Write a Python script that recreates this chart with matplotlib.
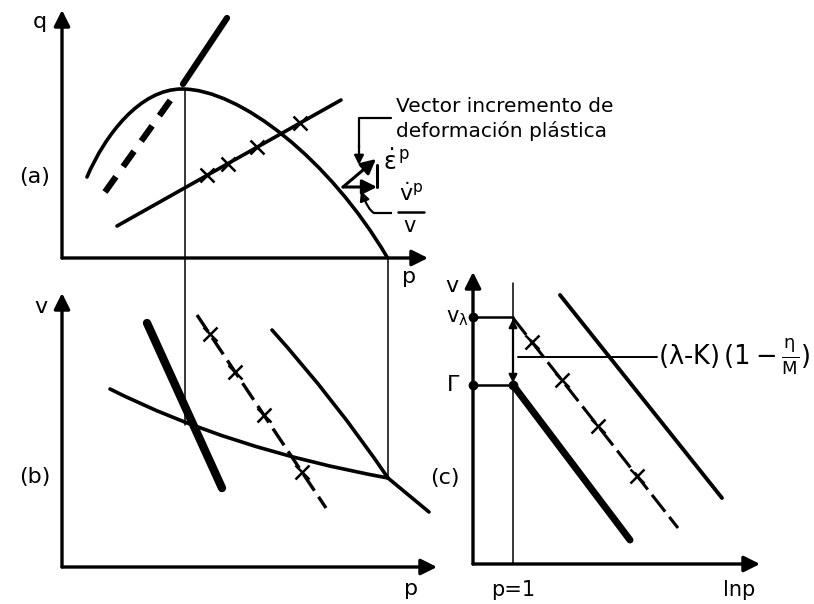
import matplotlib.pyplot as plt
from matplotlib.path import Path
from matplotlib.patches import PathPatch

plt.rcParams['font.family'] = ['DejaVu Sans']
plt.rcParams['mathtext.fontset'] = 'dejavusans'
plt.rcParams['mathtext.default'] = 'regular'

# coordinates of the sketch, in drawing units (x right, y down)

# (a) q-p plane
axis_a = [(62, 258), (62, 10), (428, 258)]
yield_curve = [(87, 177), (105, 135), (140, 89), (182, 89),
               (240, 89), (330, 160), (387, 257)]
csl_a = [(183, 84), (227, 18)]
dashed_a = [(105, 192), (172, 98)]
xline_a = [(117, 226), (341, 100)]
xmarks_a_x = [207, 228, 257, 300]
vec_origin = (343, 187)
vec_tip = (376, 159)
vec_horiz = (377, 187)

# (b) v-p plane
axis_b = [(62, 567), (62, 293), (437, 567)]
thick_b = [(147, 323), (222, 488)]
curve_b = [(110, 389), (229, 449), (388, 478)]
dashed_b = [(197, 315), (326, 508)]
xmarks_b_x = [210, 235, 264, 302]
right_b = [(272, 330), (335, 400), (388, 478)]
tail_b = [(388, 478), (429, 512)]

# guides linking (a) and (b)
guide_left = [(185, 89), (185, 425)]
guide_right = [(388, 257), (388, 478)]

# (c) v-ln p plane
axis_c = [(473, 564), (473, 272), (760, 564)]
p1_x = 513
v_lambda_y = 317
gamma_y = 385
thick_c = [(513, 385), (630, 540)]
dashed_c = [(513, 318), (678, 528)]
xmarks_c_x = [532, 562, 598, 637]
line_c = [(560, 295), (722, 498)]
leader_c_y = 357


def on_line(seg, xs):
    (x0, y0), (x1, y1) = seg
    return [y0 + (y1 - y0) * (x - x0) / (x1 - x0) for x in xs]


def curve(ax, pts, lw):
    n = len(pts)
    if n == 3:
        codes = [Path.MOVETO, Path.CURVE3, Path.CURVE3]
    else:
        codes = [Path.MOVETO] + [Path.CURVE4] * (n - 1)
    ax.add_patch(PathPatch(Path(pts, codes), fill=False, lw=lw,
                           ec='black', capstyle='round'))


def seg(ax, pts, lw, **kw):
    xs, ys = zip(*pts)
    ax.plot(xs, ys, color='black', lw=lw, solid_capstyle='round', **kw)


def arrow(ax, start, end, lw=2.2, scale=20):
    ax.annotate('', xy=end, xytext=start,
                arrowprops=dict(arrowstyle='-|>', lw=lw, color='black',
                                mutation_scale=scale, shrinkA=0, shrinkB=0))


def axes_arrows(ax, pts):
    o, top, right = pts
    arrow(ax, o, top, lw=2.4, scale=24)
    arrow(ax, o, right, lw=2.4, scale=24)


fig = plt.figure(figsize=(8.14, 6.04), dpi=100)
ax = fig.add_axes([0, 0, 1, 1])
ax.set_xlim(0, 814)
ax.set_ylim(604, 0)
ax.axis('off')

# ---- (a)
axes_arrows(ax, axis_a)
curve(ax, yield_curve, 2.6)
seg(ax, csl_a, 4.5)
seg(ax, dashed_a, 4.5, dashes=(3.0, 2.0), dash_capstyle='butt')
seg(ax, xline_a, 2.6)
ax.plot(xmarks_a_x, on_line(xline_a, xmarks_a_x), 'x', color='black',
        ms=10, mew=1.8)

# plastic strain increment vector and its components
arrow(ax, vec_origin, vec_tip, lw=2.2, scale=22)
arrow(ax, vec_origin, vec_horiz, lw=2.2, scale=22)
seg(ax, [vec_horiz, (vec_horiz[0], vec_tip[1] + 6)], 2.2)

# leaders to the annotations
seg(ax, [(391, 118), (359, 118), (359, 148)], 1.6)
arrow(ax, (359, 145), (359, 165), lw=1.6, scale=14)
ax.add_patch(PathPatch(Path([(392, 213), (374, 213), (368, 210), (362, 193)],
                            [Path.MOVETO, Path.LINETO, Path.CURVE3, Path.CURVE3]),
                       fill=False, lw=1.6, ec='black'))
arrow(ax, (364, 199), (361, 191), lw=1.6, scale=14)

ax.text(396, 106, 'Vector incremento de', fontsize=14.5, va='center')
ax.text(396, 131, 'deformación plástica', fontsize=14.5, va='center')
ax.text(383, 162, r'$\dot{\epsilon}^{\,p}$', fontsize=17, va='center')
ax.text(411, 194, r'$\dot{v}^{p}$', fontsize=16, va='center', ha='center')
seg(ax, [(398, 212), (424, 212)], 1.8)
ax.text(410, 226, 'v', fontsize=15, va='center', ha='center')
ax.text(40, 22, 'q', fontsize=16, va='center', ha='center')
ax.text(35, 177, '(a)', fontsize=16, va='center', ha='center')
ax.text(409, 277, 'p', fontsize=16, va='center', ha='center')

# ---- guides
seg(ax, guide_left, 1.1)
seg(ax, guide_right, 1.1)

# ---- (b)
axes_arrows(ax, axis_b)
seg(ax, thick_b, 6.0)
curve(ax, curve_b, 2.6)
seg(ax, dashed_b, 2.4, dashes=(6, 2.2), dash_capstyle='butt')
ax.plot(xmarks_b_x, on_line(dashed_b, xmarks_b_x), 'x', color='black',
        ms=10, mew=1.8)
curve(ax, right_b, 2.6)
seg(ax, tail_b, 2.6)
ax.text(41, 307, 'v', fontsize=16, va='center', ha='center')
ax.text(35, 477, '(b)', fontsize=16, va='center', ha='center')
ax.text(411, 589, 'p', fontsize=16, va='center', ha='center')

# ---- (c)
axes_arrows(ax, axis_c)
seg(ax, [(p1_x, 283), (p1_x, axis_c[0][1])], 1.1)
seg(ax, [(axis_c[0][0], v_lambda_y), (p1_x, v_lambda_y)], 1.8)
seg(ax, [(axis_c[0][0], gamma_y), (p1_x, gamma_y)], 1.8)
ax.plot([axis_c[0][0], axis_c[0][0], p1_x], [v_lambda_y, gamma_y, gamma_y],
        'o', color='black', ms=6)
seg(ax, thick_c, 5.0)
seg(ax, dashed_c, 2.2, dashes=(7, 2.2), dash_capstyle='butt')
ax.plot(xmarks_c_x, on_line(dashed_c, xmarks_c_x), 'x', color='black',
        ms=10, mew=1.8)
seg(ax, line_c, 2.8)

# offset between the two lines at p=1
arrow(ax, (p1_x, leader_c_y), (p1_x, v_lambda_y + 2), lw=1.6, scale=12)
arrow(ax, (p1_x, leader_c_y), (p1_x, gamma_y - 2), lw=1.6, scale=12)
seg(ax, [(518, leader_c_y), (657, leader_c_y)], 1.4)

ax.text(452, 286, 'v', fontsize=16, va='center', ha='center')
ax.text(457, 318, r'v$_{\lambda}$', fontsize=15, va='center', ha='center')
ax.text(453, 385, r'$\Gamma$', fontsize=16, va='center', ha='center')
ax.text(445, 478, '(c)', fontsize=16, va='center', ha='center')
ax.text(513, 590, 'p=1', fontsize=15, va='center', ha='center')
ax.text(739, 590, 'lnp', fontsize=15, va='center', ha='center')
ax.text(658, 357, r'$(\lambda$-K$)\,(1-\frac{\eta}{M})$', fontsize=18.5,
        va='center', ha='left')

fig.savefig('out.png', dpi=100)
